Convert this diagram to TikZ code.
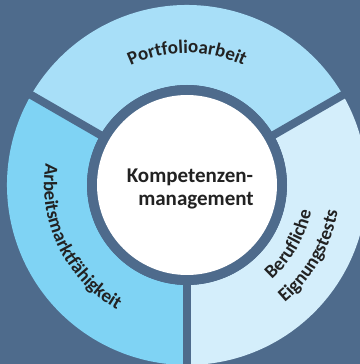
\documentclass[tikz,border=0pt]{standalone}
\usepackage{fontspec}
\setmainfont{Carlito}
\usetikzlibrary{decorations.text}
\definecolor{bg}{HTML}{4E6B8C}
\definecolor{segtop}{HTML}{A8DFF8}
\definecolor{segleft}{HTML}{7FD3F4}
\definecolor{segright}{HTML}{D4EEFB}
\definecolor{txt}{HTML}{222222}
\newcommand\arcfont{\bfseries\fontsize{19bp}{22bp}\selectfont\color{txt}}
\tikzset{
  sep/.style={draw=bg, line width=8bp},
  centertext/.style={font=\bfseries\fontsize{21bp}{24bp}\selectfont, text=txt, inner sep=0pt, anchor=base},
}
\begin{document}
\begin{tikzpicture}[x=1bp,y=1bp]
\useasboundingbox (0,0) rectangle (360,364);
\fill[bg] (0,0) rectangle (360,364);
\coordinate (c) at (187,179);
\begin{scope}
\clip (0,0) rectangle (360,364);
\fill[segtop] ([shift={(30:180)}]c) arc[start angle=30,end angle=150,radius=180]
  -- ([shift={(150:100)}]c) arc[start angle=150,end angle=30,radius=100] -- cycle;
\fill[segleft] ([shift={(150:180)}]c) arc[start angle=150,end angle=270,radius=180]
  -- ([shift={(270:100)}]c) arc[start angle=270,end angle=150,radius=100] -- cycle;
\fill[segright] ([shift={(270:180)}]c) arc[start angle=270,end angle=390,radius=180]
  -- ([shift={(30:100)}]c) arc[start angle=30,end angle=-90,radius=100] -- cycle;
\draw[sep] (c) -- ([shift={(30:185)}]c);
\draw[sep] (c) -- ([shift={(150:185)}]c);
\draw[sep] (c) -- ([shift={(270:185)}]c);
\end{scope}
\fill[bg] (c) circle[radius=100];
\fill[white] (c) circle[radius=90];
\path[decorate, decoration={text along path, text align=center, text={|\arcfont|Portfolioarbeit}}]
  ([shift={(150:132)}]c) arc[start angle=150,end angle=30,radius=132];
\path[decorate, decoration={text along path, text align=center, text={|\arcfont|Arbeitsmarktfähigkeit}}]
  ([shift={(146:143)}]c) arc[start angle=146,end angle=266,radius=143];
\path[decorate, decoration={text along path, text align=center, text={|\arcfont|Berufliche}}]
  ([shift={(-80:127)}]c) arc[start angle=-80,end angle=20,radius=127];
\path[decorate, decoration={text along path, text align=center, text={|\arcfont|Eignungstests}}]
  ([shift={(-80:153)}]c) arc[start angle=-80,end angle=20,radius=153];
\node[centertext] (k1) at (190,182) {Kompetenzen-};
\node[centertext] (k2) at (196,159) {management};
\end{tikzpicture}
\end{document}
